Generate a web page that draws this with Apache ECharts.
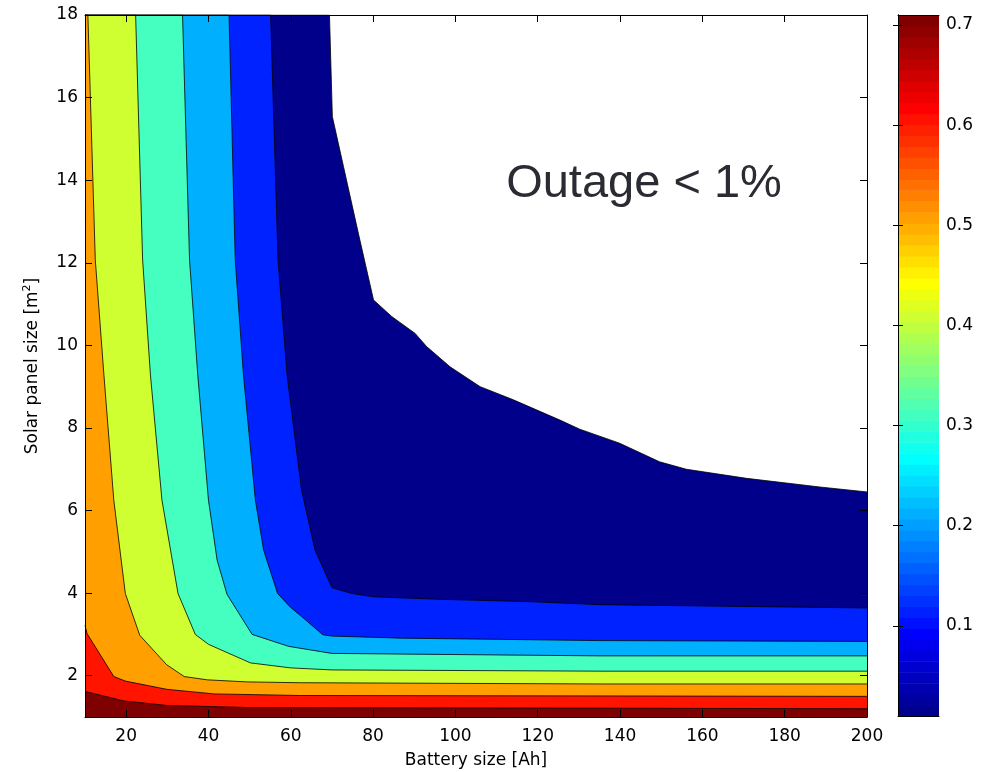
<!DOCTYPE html>
<html>
<head>
<meta charset="utf-8">
<title>Outage contour</title>
<script src="https://cdn.jsdelivr.net/npm/echarts@6.0.0/dist/echarts.min.js"></script>
<style>
    html, body { margin: 0; padding: 0; background: #fff; }
    #outageChart { width: 992px; height: 772px; }
</style>
</head>
<body>
<div id="outageChart"></div>
<script>
// axis ranges / ticks
const xMin = 10, xMax = 200;
const yMin = 1, yMax = 18;
const xTicks = [20, 40, 60, 80, 100, 120, 140, 160, 180, 200];
const yTicks = [2, 4, 6, 8, 10, 12, 14, 16, 18];
const cbarMin = 0.01, cbarMax = 0.71;
const cbarTicks = [0.1, 0.2, 0.3, 0.4, 0.5, 0.6, 0.7];

// contour levels (outage fraction) and the boundary of each one, [battery Ah, panel m2]
const levels = [0.01, 0.1, 0.2, 0.3, 0.4, 0.5, 0.6, 0.7];
const contour001 = [[69.4, 18], [70.1, 15.54], [72.8, 14.33], [76.4, 12.72], [80.1, 11.1], [84.5, 10.7], [90.2, 10.29], [93.0, 9.97], [98.7, 9.48], [106.0, 9.0], [114.1, 8.68], [125.4, 8.19], [130.2, 7.97], [139.9, 7.63], [149.6, 7.18], [156.1, 7.0], [170.7, 6.78], [188.5, 6.57], [200, 6.45]];
const contour01 = [[55.1, 18], [56.9, 12.07], [59.1, 9.28], [62.6, 6.5], [65.9, 5.04], [70.0, 4.13], [74.8, 3.99], [80.1, 3.91], [96.3, 3.85], [118.8, 3.79], [135.1, 3.72], [200, 3.64]];
const contour02 = [[45.0, 18], [46.5, 12.07], [48.5, 9.28], [51.4, 6.25], [53.4, 5.04], [56.8, 3.99], [59.9, 3.66], [62.3, 3.46], [67.8, 2.99], [70.0, 2.96], [86.6, 2.91], [135.1, 2.85], [200, 2.83]];
const contour03 = [[33.7, 18], [35.4, 12.07], [37.4, 9.28], [40.0, 6.25], [42.1, 4.8], [44.5, 3.97], [50.6, 3.0], [59.5, 2.71], [70.0, 2.54], [135.1, 2.48], [200, 2.48]];
const contour04 = [[22.3, 18], [24.0, 12.07], [25.9, 9.28], [28.7, 6.25], [32.6, 3.99], [36.8, 3.0], [40.0, 2.76], [50.2, 2.31], [59.9, 2.19], [70.0, 2.14], [135.1, 2.11], [200, 2.11]];
const contour05 = [[10.7, 18], [12.5, 12.07], [14.6, 9.28], [17.0, 6.25], [19.8, 3.99], [23.3, 2.98], [29.8, 2.27], [34.1, 1.98], [39.7, 1.9], [49.4, 1.85], [62.3, 1.83], [135.1, 1.8], [200, 1.8]];
const contour06 = [[10, 3.22], [10.5, 3.02], [17.0, 1.98], [19.8, 1.87], [29.9, 1.67], [41.3, 1.56], [62.3, 1.52], [200, 1.5]];
const contour07 = [[10, 1.62], [19.4, 1.39], [29.9, 1.28], [49.4, 1.23], [200, 1.2]];
const contours = [contour001, contour01, contour02, contour03, contour04, contour05, contour06, contour07];

const bandColors = ['#00008a', '#0022ff', '#00b0ff', '#44ffc0', '#cfff30', '#ffa000', '#ff1400', '#7f0000'];
const axisFont = '"DejaVu Sans", Verdana, sans-serif';
const noteFont = '"Liberation Sans", Arial, Helvetica, sans-serif';

// matlab jet(64)
function jetColor(i) {
    const u = k => k <= 16 ? k / 16 : (k <= 31 ? 1 : (48 - k) / 16);
    const idx = i + 1;
    const r = idx >= 25 ? u(idx - 24) : 0;
    const g = (idx >= 9 && idx <= 55) ? u(idx - 8) : 0;
    const b = idx <= 39 ? u(idx + 8) : 0;
    return 'rgb(' + Math.round(r * 255) + ',' + Math.round(g * 255) + ',' + Math.round(b * 255) + ')';
}

let outageChart = echarts.init(document.getElementById('outageChart'));

let contourSeries = contours.map(function (pts, i) {
    // regions touching the top edge start from the top-left corner
    let data = pts[0][1] === yMax ? [[xMin, yMax]].concat(pts) : pts;
    return {
        name: 'level ' + levels[i],
        type: 'line',
        xAxisIndex: 0,
        yAxisIndex: 0,
        data: data,
        showSymbol: false,
        symbol: 'none',
        silent: true,
        lineStyle: {color: '#000', width: 0.8},
        areaStyle: {color: bandColors[i], opacity: 1, origin: 'start'}
    };
});

let mainTick = {show: true, inside: true, length: 7, customValues: xTicks, lineStyle: {color: '#000'}};
let axisLine = {show: true, lineStyle: {color: '#000', width: 1}};
let labelStyle = {fontSize: 17, color: '#000', fontFamily: axisFont};

let outageOption = {
    animation: false,
    textStyle: {fontFamily: axisFont},
    grid: [
        {left: 85, right: 125, top: 15, bottom: 55, outerBoundsMode: 'none', containLabel: false},
        {left: 898, right: 53, top: 15, bottom: 56, outerBoundsMode: 'none', containLabel: false}
    ],
    xAxis: [
        {
            type: 'value', gridIndex: 0, min: xMin, max: xMax, position: 'bottom', z: 10,
            axisLine: axisLine,
            axisTick: mainTick,
            axisLabel: Object.assign({customValues: xTicks, margin: 11}, labelStyle),
            splitLine: {show: false},
            name: 'Battery size [Ah]',
            nameLocation: 'middle',
            nameGap: 35,
            nameTextStyle: {fontSize: 17, color: '#000', fontFamily: axisFont}
        },
        {
            type: 'value', gridIndex: 0, min: xMin, max: xMax, position: 'top', z: 10,
            axisLine: axisLine,
            axisTick: mainTick,
            axisLabel: {show: false},
            splitLine: {show: false}
        },
        {
            type: 'value', gridIndex: 1, min: 0, max: 1, position: 'bottom', z: 10,
            axisLine: axisLine, axisTick: {show: false}, axisLabel: {show: false}, splitLine: {show: false}
        },
        {
            type: 'value', gridIndex: 1, min: 0, max: 1, position: 'top', z: 10,
            axisLine: axisLine, axisTick: {show: false}, axisLabel: {show: false}, splitLine: {show: false}
        }
    ],
    yAxis: [
        {
            type: 'value', gridIndex: 0, min: yMin, max: yMax, position: 'left', z: 10,
            axisLine: axisLine,
            axisTick: {show: true, inside: true, length: 7, customValues: yTicks, lineStyle: {color: '#000'}},
            axisLabel: Object.assign({customValues: yTicks, margin: 7}, labelStyle),
            splitLine: {show: false},
            name: '{n|Solar panel size [m}{s|2}{n|]}',
            nameLocation: 'middle',
            nameGap: 41,
            nameTextStyle: {
                color: '#000',
                rich: {
                    n: {fontSize: 17, fontFamily: axisFont, color: '#000', lineHeight: 22},
                    s: {fontSize: 11, fontFamily: axisFont, color: '#000', lineHeight: 11, verticalAlign: 'top'}
                }
            }
        },
        {
            type: 'value', gridIndex: 0, min: yMin, max: yMax, position: 'right', z: 10,
            axisLine: axisLine,
            axisTick: {show: true, inside: true, length: 7, customValues: yTicks, lineStyle: {color: '#000'}},
            axisLabel: {show: false},
            splitLine: {show: false}
        },
        {
            type: 'value', gridIndex: 1, min: cbarMin, max: cbarMax, position: 'left', z: 10,
            axisLine: axisLine,
            axisTick: {show: true, inside: true, length: 5, customValues: cbarTicks, lineStyle: {color: '#000'}},
            axisLabel: {show: false},
            splitLine: {show: false}
        },
        {
            type: 'value', gridIndex: 1, min: cbarMin, max: cbarMax, position: 'right', z: 10,
            axisLine: axisLine,
            axisTick: {show: true, inside: true, length: 5, customValues: cbarTicks, lineStyle: {color: '#000'}},
            axisLabel: Object.assign({customValues: cbarTicks, margin: 7}, labelStyle),
            splitLine: {show: false}
        }
    ],
    graphic: [
        {
            type: 'text',
            x: 644,
            y: 184,
            silent: true,
            style: {
                text: 'Outage < 1%',
                fontSize: 47,
                fontFamily: noteFont,
                fill: '#2b2b33',
                align: 'center',
                verticalAlign: 'middle'
            }
        }
    ],
    series: contourSeries.concat([
        {
            name: 'colorbar',
            type: 'custom',
            xAxisIndex: 2,
            yAxisIndex: 2,
            silent: true,
            data: [[cbarMin, cbarMax]],
            renderItem: function (params, api) {
                let lo = api.value(0), hi = api.value(1);
                let children = [];
                for (let i = 0; i < 64; i++) {
                    let p0 = api.coord([0, lo + (hi - lo) * i / 64]);
                    let p1 = api.coord([1, lo + (hi - lo) * (i + 1) / 64]);
                    children.push({
                        type: 'rect',
                        shape: {x: p0[0], y: p1[1], width: p1[0] - p0[0], height: p0[1] - p1[1] + 0.6},
                        style: {fill: jetColor(i)}
                    });
                }
                return {type: 'group', children: children};
            }
        }
    ])
};

outageChart.setOption(outageOption);
</script>
</body>
</html>
